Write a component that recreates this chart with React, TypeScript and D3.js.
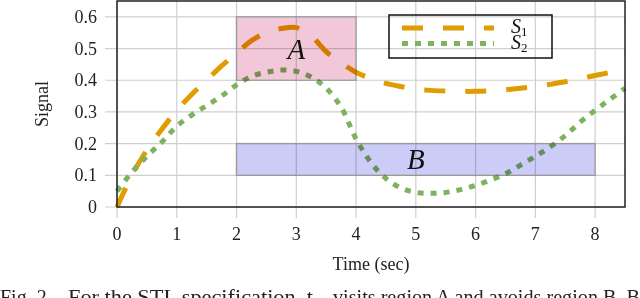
import React from "react";
import * as d3 from "d3";

const time = [0, 0.25, 0.5, 0.75, 1, 1.25, 1.5, 1.75, 2, 2.25, 2.5, 2.75, 3, 3.25, 3.5, 3.75, 4, 4.25, 4.5, 4.75, 5, 5.25, 5.5, 5.75, 6, 6.25, 6.5, 6.75, 7, 7.25, 7.5, 7.75, 8, 8.25, 8.5];
const s1 = [0, 0.1, 0.18, 0.245, 0.305, 0.355, 0.4, 0.445, 0.485, 0.525, 0.55, 0.563, 0.566, 0.54, 0.49, 0.455, 0.425, 0.405, 0.39, 0.38, 0.372, 0.368, 0.366, 0.365, 0.365, 0.367, 0.37, 0.375, 0.38, 0.387, 0.395, 0.405, 0.415, 0.425, 0.44];
const s2 = [0.05, 0.11, 0.16, 0.205, 0.255, 0.29, 0.32, 0.35, 0.385, 0.412, 0.425, 0.432, 0.428, 0.41, 0.375, 0.315, 0.215, 0.14, 0.09, 0.06, 0.046, 0.043, 0.046, 0.055, 0.068, 0.085, 0.105, 0.132, 0.16, 0.19, 0.225, 0.268, 0.305, 0.34, 0.375];
const xTicks = [0, 1, 2, 3, 4, 5, 6, 7, 8];
const yTicks = [0, 0.1, 0.2, 0.3, 0.4, 0.5, 0.6];
const regions = [
  { name: "A", x0: 2, x1: 4, y0: 0.4, y1: 0.6, lx: 3, ly: 0.5, fill: "#f2c8d8" },
  { name: "B", x0: 2, x1: 8, y0: 0.1, y1: 0.2, lx: 5, ly: 0.15, fill: "#ccccf8" },
];
const series = [
  { name: "1", values: s1, color: "#e09c00", dash: "21 20" },
  { name: "2", values: s2, color: "#7db35f", dash: "6 7" },
];

const W = 640, H = 298;
const m = { left: 117, right: 15, top: 1, bottom: 91 };
const serif = "'Liberation Serif', 'Times New Roman', serif";

export default function App() {
  const x = d3.scaleLinear().domain([0, 8.5]).range([m.left, W - m.right]);
  const y = d3.scaleLinear().domain([0, 0.65]).range([H - m.bottom, m.top]);
  const line = (vals: number[]) =>
    d3.line<number>().x((_, i) => x(time[i])).y(d => y(d)).curve(d3.curveCatmullRom)(vals) || "";

  const grid = "#cfcfcf";
  return (
    <svg width={W} height={H} style={{ position: "absolute", left: 0, top: 0, background: "#fff" }} fontFamily={serif}>
      {/* grid + outward ticks */}
      {xTicks.map(t => (
        <line key={"gx" + t} x1={x(t)} x2={x(t)} y1={y(0.65)} y2={y(0) + 11} stroke={grid} strokeWidth={1.2} />
      ))}
      {yTicks.map(t => (
        <line key={"gy" + t} x1={x(0) - 12} x2={x(8.5)} y1={y(t)} y2={y(t)} stroke={grid} strokeWidth={1.2} />
      ))}
      {xTicks.map(t => (
        <text key={"tx" + t} x={x(t)} y={240} fontSize={18} textAnchor="middle" fill="#222">{t}</text>
      ))}
      {yTicks.map(t => (
        <text key={"ty" + t} x={97} y={y(t) + 6} fontSize={18} textAnchor="end" fill="#222">{t === 0 ? "0" : t.toFixed(1)}</text>
      ))}

      {/* signals */}
      {series.map(s => (
        <path key={s.name} d={line(s.values)} fill="none" stroke={s.color} strokeWidth={5} strokeDasharray={s.dash} />
      ))}

      {/* regions, multiplied over the curves */}
      {regions.map(r => (
        <g key={r.name}>
          <rect x={x(r.x0)} y={y(r.y1)} width={x(r.x1) - x(r.x0)} height={y(r.y0) - y(r.y1)}
            fill={r.fill} stroke="#bdbdbd" strokeWidth={1.5} style={{ mixBlendMode: "multiply" }} />
          <text x={x(r.lx)} y={y(r.ly) + 10} fontSize={29} fontStyle="italic" textAnchor="middle" fill="#111">{r.name}</text>
        </g>
      ))}

      {/* frame */}
      <rect x={x(0)} y={y(0.65)} width={x(8.5) - x(0)} height={y(0) - y(0.65)} fill="none" stroke="#222" strokeWidth={1.5} />

      {/* legend */}
      <rect x={389} y={15} width={163} height={43} fill="none" stroke="#111" strokeWidth={1.5} />
      {series.map((s, i) => (
        <g key={"lg" + s.name}>
          <line x1={402} x2={494} y1={28 + i * 15.5} y2={28 + i * 15.5} stroke={s.color} strokeWidth={5} strokeDasharray={s.dash} />
          <text x={511} y={33 + i * 16} fontSize={20} fill="#111">
            <tspan fontStyle="italic">S</tspan>
            <tspan fontSize={13} dy={3}>{s.name}</tspan>
          </text>
        </g>
      ))}

      {/* axis labels */}
      <text x={371} y={270} fontSize={18} textAnchor="middle" fill="#222">Time (sec)</text>
      <text transform={`translate(48,${y(0.325)}) rotate(-90)`} fontSize={18} textAnchor="middle" fill="#222">Signal</text>

      {/* clipped caption below the figure */}
      <text x={0} y={304} fontSize={20} fill="#222">Fig. 2.</text>
      <text x={68} y={304} fontSize={20} fill="#222" textLength={245} lengthAdjust="spacingAndGlyphs">For the STL specification, t</text>
      <text x={333} y={304} fontSize={20} fill="#222" textLength={307} lengthAdjust="spacingAndGlyphs">visits region A and avoids region B. B</text>
    </svg>
  );
}
